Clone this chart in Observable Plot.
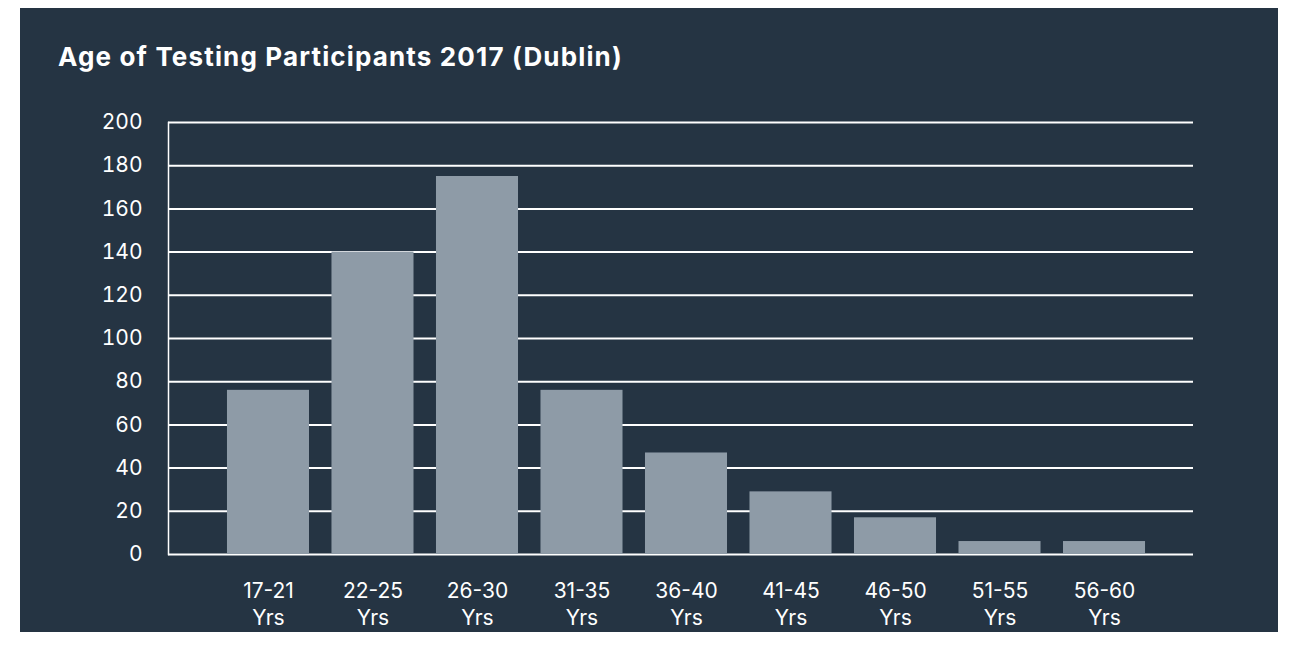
<!DOCTYPE html>
<html>
<head>
<meta charset="utf-8">
<script src="https://cdn.jsdelivr.net/npm/d3@7"></script>
<script src="https://cdn.jsdelivr.net/npm/@observablehq/plot@0.6"></script>
<style>
  html, body { margin: 0; padding: 0; background: #ffffff; width: 1294px; height: 658px; overflow: hidden; }
  #panel { position: absolute; left: 20px; top: 8px; width: 1258px; height: 624px; background: #253443; }
  #title { position: absolute; left: 58px; top: 44px; font-family: Inter, "Noto Sans", sans-serif; font-weight: 700; font-size: 26px; letter-spacing: 1.15px; line-height: 1; color: #ffffff; white-space: nowrap; }
  #chart { position: absolute; left: 0; top: 0; }
</style>
</head>
<body>
<div id="panel"></div>
<div id="title">Age of Testing Participants 2017 (Dublin)</div>
<div id="chart"></div>
<script>
const ageGroups = ["17-21", "22-25", "26-30", "31-35", "36-40", "41-45", "46-50", "51-55", "56-60"];
const participants = [76, 140, 175, 76, 47, 29, 17, 6, 6];
const yTicks = [0, 20, 40, 60, 80, 100, 120, 140, 160, 180, 200];

const table = ageGroups.map((g, i) => ({group: g, count: participants[i]}));

const chart = Plot.plot({
  width: 1294,
  height: 658,
  marginLeft: 168,
  marginRight: 101,
  marginTop: 122,
  marginBottom: 104,
  style: {background: "transparent", color: "#ffffff", fontFamily: "Inter, 'Noto Sans', sans-serif", fontSize: "21px"},
  x: {domain: ageGroups, padding: 0.215, round: false, insetLeft: 36.5, insetRight: 25.5, label: null},
  y: {domain: [0, 200], ticks: yTicks, label: null},
  marks: [
    Plot.gridY(yTicks, {stroke: "#ffffff", strokeOpacity: 1, strokeWidth: 2}),
    Plot.frame({anchor: "left", stroke: "#ffffff", strokeWidth: 1.5}),
    Plot.barY(table, {x: "group", y: "count", fill: "#8e9ba7"}),
    Plot.axisY({ticks: yTicks, tickSize: 0, tickPadding: 26, fontSize: 21, fill: "#ffffff", label: null}),
    Plot.axisX({tickSize: 0, tickPadding: 24, fontSize: 21, fill: "#ffffff", lineHeight: 1.29, tickFormat: d => d + "\nYrs", label: null})
  ]
});
document.getElementById("chart").appendChild(chart);
</script>
</body>
</html>
